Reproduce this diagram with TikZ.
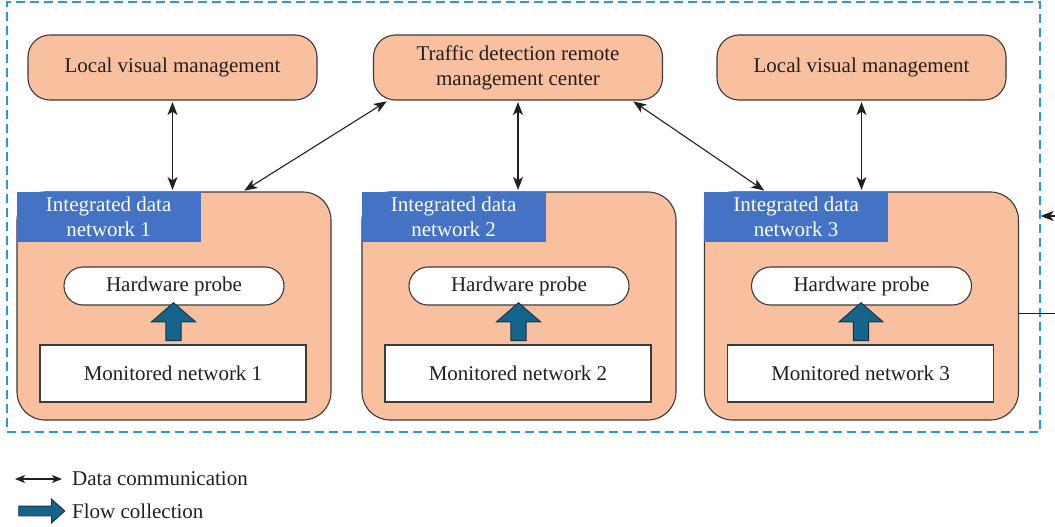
\documentclass[tikz,border=0pt]{standalone}
\usepackage{fontspec}
\setmainfont{Liberation Serif}
\usetikzlibrary{arrows.meta, calc, positioning, shapes.arrows}
\definecolor{boxfill}{RGB}{249, 192, 160}
\definecolor{boxstroke}{RGB}{60, 58, 58}
\definecolor{labelfill}{RGB}{68, 114, 196}
\definecolor{framecol}{RGB}{45, 150, 212}
\definecolor{flowfill}{RGB}{20, 100, 140}
\definecolor{flowstroke}{RGB}{18, 52, 72}
\definecolor{inkcol}{RGB}{35, 31, 32}
\tikzset{
  % all text in the same serif size
  txt/.style={font=\fontsize{21}{25}\selectfont, text=inkcol},
  %
  % top row: management boxes
  mgmt/.style={
    txt, rectangle, rounded corners=22pt, draw=boxstroke, fill=boxfill,
    line width=1.1pt, minimum width=289pt, minimum height=65pt,
    align=center, inner sep=0pt
  },
  % integrated data network (big salmon box)
  netbox/.style={
    rectangle, rounded corners=28pt, draw=boxstroke, fill=boxfill,
    line width=1.1pt, minimum width=314pt, minimum height=228pt
  },
  % blue caption in the top-left corner of a netbox
  netlabel/.style={
    txt, text=white, rectangle, fill=labelfill, anchor=north west,
    minimum width=184pt, minimum height=50pt, align=center, inner sep=0pt
  },
  % hardware probe (rounded ends)
  probe/.style={
    txt, rectangle, rounded corners=19pt, draw=boxstroke, fill=white,
    line width=1.1pt, minimum width=220pt, minimum height=38pt
  },
  % monitored network
  monitored/.style={
    txt, rectangle, draw=boxstroke, fill=white,
    line width=1.1pt, minimum width=266pt, minimum height=57pt
  },
  %
  % fat blue arrow = flow collection
  flowarrow/.style={
    single arrow, draw=flowstroke, fill=flowfill, line width=0.9pt,
    inner xsep=0pt, inner ysep=7.2pt, minimum height=38pt,
    single arrow head extend=14.5pt, single arrow tip angle=98
  },
  % thin double arrow = data communication
  datalink/.style={
    {Stealth[length=13pt, width=10pt, inset=3.5pt]}-{Stealth[length=13pt, width=10pt, inset=3.5pt]},
    color=inkcol, line width=1.1pt, shorten <=1.5pt, shorten >=1.5pt
  },
  datain/.style={-{Stealth[length=13pt, width=10pt, inset=3.5pt]}, color=inkcol, line width=1.1pt},
  dataline/.style={color=inkcol, line width=0.8pt},
  %
  % dashed system frame
  frame/.style={
    rectangle, draw=framecol, line width=1.2pt, dash pattern=on 9pt off 5pt,
    minimum width=1033pt, minimum height=430pt
  },
}

\begin{document}
\begin{tikzpicture}[x=1pt, y=-1pt]
  \useasboundingbox (0,0) rectangle (1055,527);

  %% ── Frame ────────────────────────────────────────────────────────────────
  \node[frame] (frame) at (523.5, 217) {};

  %% ── Management row ───────────────────────────────────────────────────────
  \node[mgmt] (lvm1) at (172.5, 67.5) {Local visual management};
  \node[mgmt] (tdc)  at (518.0, 67.5) {Traffic detection remote\\management center};
  \node[mgmt] (lvm3) at (861.5, 67.5) {Local visual management};

  %% ── Integrated data networks ─────────────────────────────────────────────
  \foreach \i/\cx in {1/174, 2/519, 3/861.5} {
    \node[netbox] (net\i) at (\cx, 306) {};
    \node[netlabel] (lab\i) at (net\i.north west) {Integrated data\\network \i};
    \node[probe] (hw\i) at (\cx, 286) {Hardware probe};
    \node[monitored] (mon\i) at (\cx - 1, 373.5) {Monitored network \i};
    \node[flowarrow, rotate=90] (flow\i) at ($(mon\i.north)!0.5!(hw\i.south)$) {};
  }

  %% ── Data communication ───────────────────────────────────────────────────
  \draw[datalink] (lvm1.south) -- (lvm1.south |- net1.north);
  \draw[datalink] (tdc.south) -- (tdc.south |- net2.north);
  \draw[datalink] (lvm3.south) -- (lvm3.south |- net3.north);
  \draw[datalink] ([xshift=15pt]tdc.south west) -- ([xshift=69pt]net1.north);
  \draw[datalink] ([xshift=-31pt]tdc.south east) -- ([xshift=-96pt]net3.north);

  %% ── Links leaving the frame ──────────────────────────────────────────────
  \coordinate (extin)  at (1056, 216);
  \coordinate (extout) at (1056, 313);
  \draw[datain]   (extin) -- (frame.east |- extin);
  \draw[dataline] (net3.east |- extout) -- (extout);

  %% ── Legend ───────────────────────────────────────────────────────────────
  \coordinate (lgA) at (15, 479);
  \coordinate (lgB) at (62, 479);
  \draw[datalink, shorten <=0pt, shorten >=0pt,
        {Stealth[length=10pt, width=8pt, inset=2.5pt]}-{Stealth[length=10pt, width=8pt, inset=2.5pt]}] (lgA) -- (lgB);
  \node[txt, anchor=west, inner sep=0pt] (lgdata) at (72, 479) {Data communication};
  \node[flowarrow, minimum height=46pt, inner ysep=4.5pt,
        single arrow head extend=7pt, single arrow tip angle=84] (lgflow) at (39, 511) {};
  \node[txt, anchor=west, inner sep=0pt] (lgflowtxt) at (72, 511) {Flow collection};

\end{tikzpicture}
\end{document}
